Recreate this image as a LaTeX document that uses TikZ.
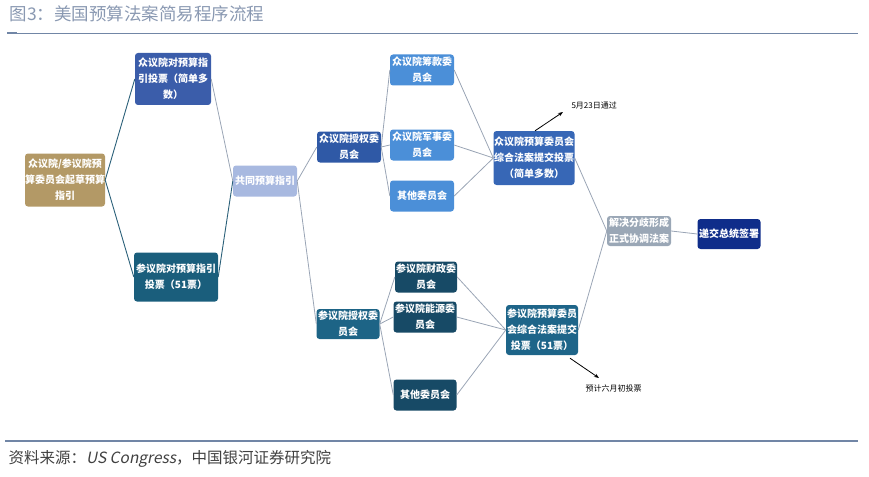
\documentclass[tikz,border=0pt]{standalone}
\usepackage{fontspec}
\setmainfont{Noto Sans CJK SC}
\newfontfamily\slantfont[FakeSlant=0.2]{Noto Sans CJK SC}
\usetikzlibrary{arrows.meta}
\definecolor{titlec}{HTML}{8A99B2}
\definecolor{rulec}{HTML}{7186A6}
\definecolor{tanc}{HTML}{B39966}
\definecolor{hvotec}{HTML}{3B5DAA}
\definecolor{svotec}{HTML}{1A5E7C}
\definecolor{jointc}{HTML}{A8B9E0}
\definecolor{hauthc}{HTML}{2F59A6}
\definecolor{sauthc}{HTML}{1D6486}
\definecolor{hsubc}{HTML}{4B8FD8}
\definecolor{ssubc}{HTML}{174A66}
\definecolor{hbudc}{HTML}{3767B6}
\definecolor{sbudc}{HTML}{1E6589}
\definecolor{recc}{HTML}{9AA7B6}
\definecolor{presc}{HTML}{0F2D8A}
\definecolor{linec}{HTML}{9AA5B5}
\definecolor{tealline}{HTML}{2B6079}
\begin{document}
\begin{tikzpicture}[x=1pt,y=-1pt,
  box/.style={rounded corners=3pt,text=white,align=center,inner sep=0pt,
    font=\fontsize{10}{16}\selectfont\bfseries},
  link/.style={draw=linec,line width=0.8pt},
  tlink/.style={draw=tealline,line width=0.9pt},
  note/.style={font=\fontsize{8}{10}\selectfont,text=black}]
\useasboundingbox (0,0) rectangle (869,476);
\node[anchor=west,text=titlec,font=\fontsize{17.5}{20}\selectfont] (title) at (6,14) {图3：美国预算法案简易程序流程};
\draw[rulec,line width=0.6pt] (7,33) -- (858,33);
\draw[rulec,line width=2pt] (7,33) -- (17,33);
\draw[rulec,line width=2pt] (5,441) -- (858,441);
\node[anchor=west,text=black!75,font=\fontsize{15.5}{18}\selectfont] (src) at (5,459) {资料来源：{\slantfont US Congress}，中国银河证券研究院};

\node[box,fill=tanc,minimum width=80,minimum height=53] (draft) at (65,180) {众议院/参议院预\\算委员会起草预算\\指引};
\node[box,fill=hvotec,minimum width=76,minimum height=52] (hvote) at (173,79) {众议院对预算指\\引投票（简单多\\数）};
\node[box,fill=svotec,minimum width=84,minimum height=49] (svote) at (176,277) {参议院对预算指引\\投票（51票）};
\node[box,fill=jointc,minimum width=64,minimum height=31] (joint) at (265,181) {共同预算指引};
\node[box,fill=hauthc,minimum width=64,minimum height=31] (hauth) at (349,147) {众议院授权委\\员会};
\node[box,fill=sauthc,minimum width=63,minimum height=30] (sauth) at (348,324) {参议院授权委\\员会};
\node[box,fill=hsubc,minimum width=64,minimum height=31] (hways) at (422,70) {众议院筹款委\\员会};
\node[box,fill=hsubc,minimum width=64,minimum height=31] (harmy) at (422,145) {众议院军事委\\员会};
\node[box,fill=hsubc,minimum width=64,minimum height=31] (hother) at (422,196) {其他委员会};
\node[box,fill=ssubc,minimum width=62,minimum height=31] (sfin) at (426,277) {参议院财政委\\员会};
\node[box,fill=ssubc,minimum width=63,minimum height=31] (sener) at (425,317) {参议院能源委\\员会};
\node[box,fill=ssubc,minimum width=63,minimum height=31] (sother) at (425,395) {其他委员会};
\node[box,fill=hbudc,minimum width=81,minimum height=54] (hbud) at (534,158) {众议院预算委员会\\综合法案提交投票\\（简单多数）};
\node[box,fill=sbudc,minimum width=72,minimum height=50] (sbud) at (542,330) {参议院预算委员\\会综合法案提交\\投票（51票）};
\node[box,fill=recc,minimum width=64,minimum height=30] (recon) at (639,231) {解决分歧形成\\正式协调法案};
\node[box,fill=presc,minimum width=63,minimum height=30] (pres) at (729,234) {递交总统签署};

\draw[tlink] (draft.east) -- (hvote.west);
\draw[tlink] (draft.east) -- (svote.west);
\draw[link] (hvote.east) -- (joint.west);
\draw[tlink] (svote.east) -- (joint.west);
\draw[link] (joint.east) -- (hauth.west);
\draw[link] (joint.east) -- (sauth.west);
\foreach \n in {hways,harmy,hother}{
  \draw[link] (hauth.east) -- (\n.west);
  \draw[link] (\n.east) -- (hbud.west);
}
\foreach \n in {sfin,sener,sother}{
  \draw[link] (sauth.east) -- (\n.west);
  \draw[link] (\n.east) -- (sbud.west);
}
\draw[link] (hbud.east) -- (recon.west);
\draw[link] (sbud.east) -- (recon.west);
\draw[link] (recon.east) -- (pres.west);

\node[note,anchor=west] (hpass) at (568,105) {5月23日通过};
\node[note,anchor=west] (spass) at (582,388) {预计六月初投票};
\draw[-{Stealth[length=5pt]},line width=0.8pt] (hbud.north) ++(1,0) -- (563,112);
\draw[-{Stealth[length=5pt]},line width=0.8pt] (sbud.south) ++(28,3) -- (599,378);
\end{tikzpicture}
\end{document}
